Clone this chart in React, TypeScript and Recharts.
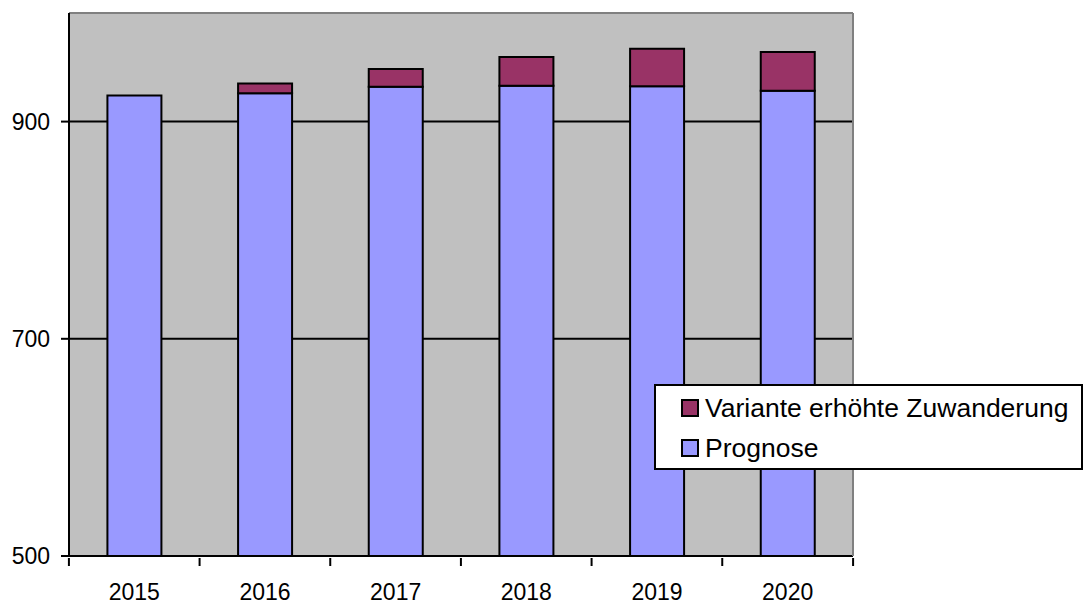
import React from "react";
import {
  BarChart,
  Bar,
  XAxis,
  YAxis,
  CartesianGrid,
  Legend,
} from "recharts";

// Jahre und Werte
const years = ["2015", "2016", "2017", "2018", "2019", "2020"];
const prognose = [924, 926, 932, 933, 932.5, 928.5];
const variante = [0, 9, 16.5, 26.5, 34.5, 35.5];
const yTicks = [500, 700, 900];

const data = years.map((year, i) => ({
  year,
  prognose: prognose[i],
  variante: variante[i],
}));

const FONT = "'Liberation Sans', Arial, sans-serif";
const CHART_W = 1084;
const CHART_H = 604;
const MARGIN = { top: 12, right: 230, bottom: 0, left: 0 };
const Y_AXIS_W = 69;
const X_AXIS_H = 48;
const PLOT_W = CHART_W - MARGIN.left - MARGIN.right - Y_AXIS_W;
const STEP = PLOT_W / years.length;

// Excel-artige Achse: Beschriftung in der Mitte, Striche zwischen den Kategorien
const YearTick = (props: any) => {
  const { x, y, payload, index } = props;
  const half = STEP / 2;
  return (
    <g>
      <line x1={x - half} y1={y} x2={x - half} y2={y + 8} stroke="#000" strokeWidth={2} />
      {index === years.length - 1 && (
        <line x1={x + half} y1={y} x2={x + half} y2={y + 8} stroke="#000" strokeWidth={2} />
      )}
      <text
        x={x}
        y={y + 26}
        dy="0.71em"
        textAnchor="middle"
        fill="#000"
        fontSize={23}
        fontFamily={FONT}
      >
        {payload.value}
      </text>
    </g>
  );
};

const LegendBox = () => {
  const items = [
    { label: "Variante erhöhte Zuwanderung", color: "#993366" },
    { label: "Prognose", color: "#9999FF" },
  ];
  return (
    <div
      style={{
        boxSizing: "border-box",
        width: 429,
        height: 86,
        border: "2px solid #000",
        background: "#fff",
        paddingTop: 2,
        paddingLeft: 25,
        fontFamily: FONT,
        fontSize: 26.5,
        color: "#000",
        textAlign: "left",
      }}
    >
      {items.map((it) => (
        <div
          key={it.label}
          style={{ display: "flex", alignItems: "center", height: 40 }}
        >
          <span
            style={{
              display: "inline-block",
              boxSizing: "border-box",
              width: 18,
              height: 18,
              background: it.color,
              border: "2px solid #000",
              marginRight: 6,
            }}
          />
          <span>{it.label}</span>
        </div>
      ))}
    </div>
  );
};

export default function App() {
  return (
    <div style={{ position: "absolute", left: 0, top: 0, background: "#fff" }}>
      <BarChart
        width={CHART_W}
        height={CHART_H}
        data={data}
        margin={MARGIN}
        barCategoryGap="29.4%"
      >
        <CartesianGrid
          vertical={false}
          fill="#C0C0C0"
          stroke="#000"
          strokeWidth={2}
          horizontalValues={yTicks}
        />
        <XAxis
          dataKey="year"
          height={X_AXIS_H}
          tickLine={false}
          tickSize={0}
          axisLine={{ stroke: "#000", strokeWidth: 2 }}
          tick={<YearTick />}
          interval={0}
        />
        <XAxis
          xAxisId="top"
          orientation="top"
          dataKey="year"
          height={1}
          tick={false}
          tickLine={false}
          axisLine={{ stroke: "#808080", strokeWidth: 2 }}
        />
        <YAxis
          width={Y_AXIS_W}
          domain={[500, 1000]}
          ticks={yTicks}
          allowDataOverflow
          tickSize={8}
          tickMargin={11}
          axisLine={{ stroke: "#000", strokeWidth: 2 }}
          tickLine={{ stroke: "#000", strokeWidth: 2 }}
          tick={{ fill: "#000", fontSize: 23, fontFamily: FONT }}
        />
        <YAxis
          yAxisId="right"
          orientation="right"
          domain={[500, 1000]}
          allowDataOverflow
          width={1}
          tick={false}
          tickLine={false}
          axisLine={{ stroke: "#808080", strokeWidth: 2 }}
        />
        <Legend
          layout="horizontal"
          verticalAlign="middle"
          align="center"
          content={<LegendBox />}
          wrapperStyle={{ left: 654, top: 384, width: 429, height: 86 }}
        />
        <Bar
          dataKey="prognose"
          name="Prognose"
          stackId="a"
          fill="#9999FF"
          stroke="#000"
          strokeWidth={2}
          isAnimationActive={false}
        />
        <Bar
          dataKey="variante"
          name="Variante erhöhte Zuwanderung"
          stackId="a"
          fill="#993366"
          stroke="#000"
          strokeWidth={2}
          isAnimationActive={false}
        />
      </BarChart>
    </div>
  );
}
